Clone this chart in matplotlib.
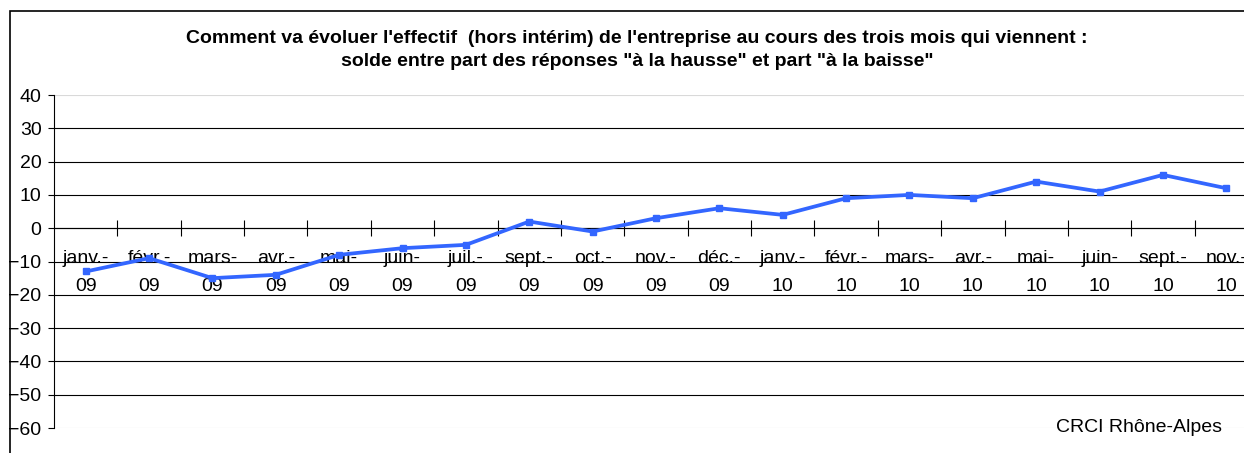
import matplotlib.pyplot as plt
from matplotlib.patches import Rectangle

# data
mois = ['janv.-\n09', 'févr.-\n09', 'mars-\n09', 'avr.-\n09', 'mai-\n09', 'juin-\n09',
        'juil.-\n09', 'sept.-\n09', 'oct.-\n09', 'nov.-\n09', 'déc.-\n09', 'janv.-\n10',
        'févr.-\n10', 'mars-\n10', 'avr.-\n10', 'mai-\n10', 'juin-\n10', 'sept.-\n10', 'nov.-\n10']
solde = [-13, -9, -15, -14, -8, -6, -5, 2, -1, 3, 6, 4, 9, 10, 9, 14, 11, 16, 12]
yticks = [40, 30, 20, 10, 0, -10, -20, -30, -40, -50, -60]

plt.rcParams['font.family'] = ['Liberation Sans', 'DejaVu Sans']

fig = plt.figure(figsize=(12.44, 4.53), dpi=100)
W, H = 1244, 453
# outer chart frame (cut on the right and bottom as in the original)
fig.patches.append(Rectangle((10 / W, -0.1), 1.2, 1 - 11 / H + 0.1, transform=fig.transFigure,
                             fill=False, edgecolor='black', lw=1.2))

ax = fig.add_axes([54 / W, 1 - 428 / H, 1204 / W, 333 / H])
x = list(range(len(mois)))
ax.plot(x, solde, color='#3366ff', lw=2.7, marker='s', markersize=5, zorder=5)

ax.set_xlim(-0.5, len(mois) - 0.5)
ax.set_ylim(-60, 40)
ax.set_yticks(yticks)
ax.tick_params(axis='y', direction='out', length=4, width=0.8, pad=5, labelsize=14)
ax.grid(axis='y', color='black', lw=0.8)
for val, gl in zip(ax.get_yticks(), ax.get_ygridlines()):
    if val in (40, -60):
        gl.set_color('#d9d9d9')

ax.spines['bottom'].set_position(('data', 0))
ax.spines['bottom'].set_linewidth(0.8)
ax.spines['left'].set_linewidth(0.8)
ax.spines['top'].set_visible(False)
ax.spines['right'].set_visible(False)
ax.set_xticks(x)
ax.set_xticklabels(mois, fontsize=14, linespacing=1.85)
ax.set_xticks([i + 0.5 for i in x[:-1]], minor=True)
ax.tick_params(axis='x', which='major', length=0, pad=16)
ax.tick_params(axis='x', which='minor', length=12, width=0.8, direction='inout')

fig.text(637 / W, 1 - 50 / H,
         "Comment va évoluer l'effectif  (hors intérim) de l'entreprise au cours des trois mois qui viennent :\n"
         "solde entre part des réponses \"à la hausse\" et part \"à la baisse\"",
         ha='center', va='center', fontsize=14, fontweight='bold', linespacing=1.45)
fig.text(1222 / W, 1 - 428 / H, 'CRCI Rhône-Alpes', ha='right', va='center', fontsize=14)

fig.savefig('out.png', dpi=100)
